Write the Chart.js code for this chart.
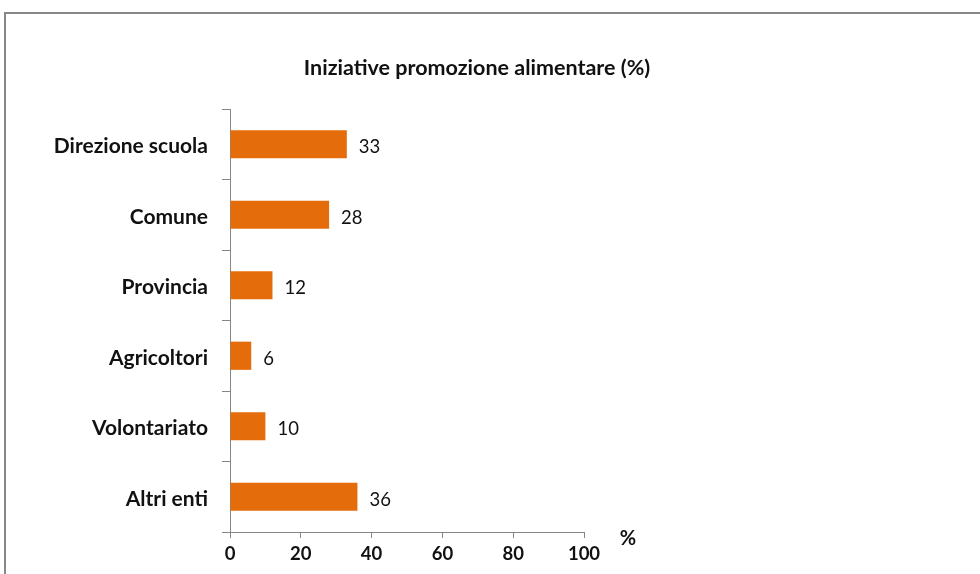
<!DOCTYPE html>
<html>
<head>
<meta charset="utf-8">
<script src="https://cdn.jsdelivr.net/npm/chart.js@4/dist/chart.umd.min.js"></script>
<style>
  body { margin: 0; background: #fff; overflow: hidden; }
  #wrap { position: relative; width: 980px; height: 574px; }
  #frame { position: absolute; left: 4px; top: 12px; width: 1100px; height: 700px; border: 2px solid #878787; box-sizing: border-box; }
  canvas { position: absolute; left: 0; top: 0; }
</style>
</head>
<body>
<div id="wrap">
  <div id="frame"></div>
  <canvas id="chart" width="980" height="574"></canvas>
</div>
<script>
// chart data
const categories = ['Direzione scuola', 'Comune', 'Provincia', 'Agricoltori', 'Volontariato', 'Altri enti'];
const values = [33, 28, 12, 6, 10, 36];
const xTicks = [0, 20, 40, 60, 80, 100];
const chartTitle = 'Iniziative promozione alimentare (%)';
const unitLabel = '%';

const FONT = 'Lato, "Open Sans", sans-serif';
const axisColor = '#868686';

// title, unit and value labels
const extrasPlugin = {
    id: 'extras',
    afterDatasetsDraw(chart) {
        const ctx = chart.ctx;
        ctx.save();
        ctx.fillStyle = '#111';
        ctx.textBaseline = 'middle';

        ctx.font = 'bold 21.5px ' + FONT;
        ctx.textAlign = 'center';
        ctx.fillText(chartTitle, 477, 68);
        ctx.font = 'bold 20px ' + FONT;
        ctx.fillText(unitLabel, 628, 539);

        ctx.font = '18.5px ' + FONT;
        ctx.textAlign = 'left';
        const meta = chart.getDatasetMeta(0);
        meta.data.forEach((bar, i) => {
            ctx.fillText(String(values[i]), bar.x + 12, bar.y + 3);
        });
        ctx.restore();
    }
};

new Chart(document.getElementById('chart'), {
    type: 'bar',
    data: {
        labels: categories,
        datasets: [{
            data: values,
            backgroundColor: '#E46C0A',
            borderWidth: 0,
            categoryPercentage: 1,
            barPercentage: 0.4
        }]
    },
    options: {
        indexAxis: 'y',
        responsive: false,
        animation: false,
        events: [],
        layout: { padding: { top: 109, right: 396, bottom: 0, left: 0 } },
        plugins: {
            legend: { display: false },
            tooltip: { enabled: false },
            title: { display: false }
        },
        scales: {
            x: {
                min: 0,
                max: 100,
                afterBuildTicks(scale) {
                    scale.ticks = xTicks.map(v => ({ value: v }));
                },
                afterFit(scale) { scale.height = 42; },
                grid: {
                    drawOnChartArea: false,
                    color: axisColor,
                    tickLength: 6
                },
                border: { color: axisColor, width: 1 },
                ticks: {
                    color: '#111',
                    padding: 5,
                    font: { family: FONT, size: 18.5, weight: 'bold' }
                }
            },
            y: {
                afterFit(scale) { scale.width = 230; },
                grid: {
                    offset: true,
                    drawOnChartArea: false,
                    color: axisColor,
                    tickLength: 8
                },
                border: { color: axisColor, width: 1 },
                ticks: {
                    color: '#111',
                    padding: 14,
                    labelOffset: 2,
                    font: { family: FONT, size: 21, weight: 'bold' }
                }
            }
        }
    },
    plugins: [extrasPlugin]
});
</script>
</body>
</html>
